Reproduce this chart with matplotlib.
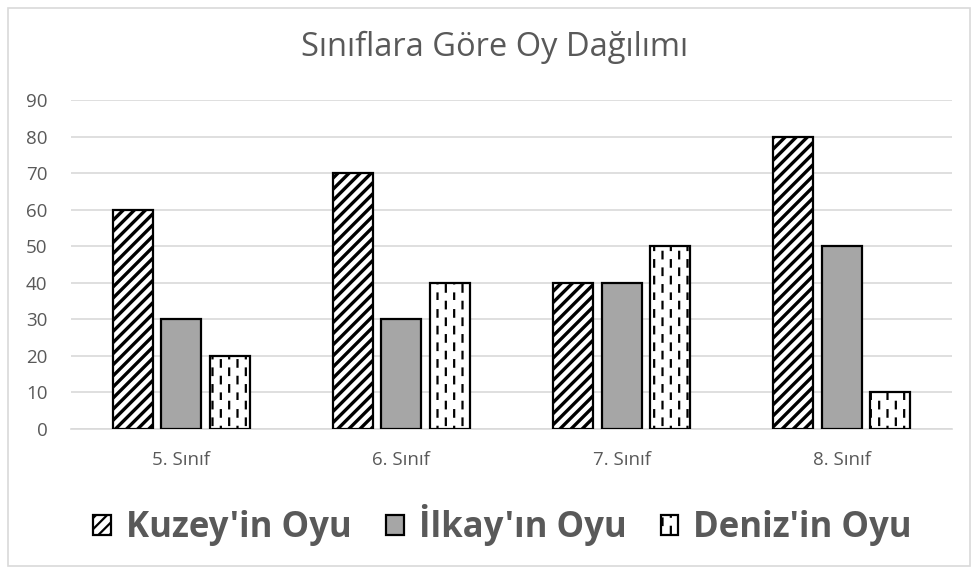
import warnings
import numpy as np
import matplotlib
matplotlib.use("Agg")
import matplotlib.pyplot as plt
from matplotlib import hatch as mhatch
from matplotlib.path import Path
from matplotlib.patches import Rectangle

warnings.filterwarnings("ignore")

# data
categories = ["5. Sınıf", "6. Sınıf", "7. Sınıf", "8. Sınıf"]
kuzey = [60, 70, 40, 80]
ilkay = [30, 30, 40, 50]
deniz = [20, 40, 50, 10]
series_names = ["Kuzey'in Oyu", "İlkay'ın Oyu", "Deniz'in Oyu"]
yticks = [0, 10, 20, 30, 40, 50, 60, 70, 80, 90]


# custom hatch: staggered short vertical dashes ('d')
class DashHatch(mhatch.HatchPatternBase):
    def __init__(self, hatch, density):
        n = hatch.count('d')
        self.ncols = 12 * n
        self.nrows = 6 * n
        self.num_lines = self.ncols * (self.nrows + 1) if n else 0
        self.num_vertices = self.num_lines * 2

    def set_vertices_and_codes(self, vertices, codes):
        dash = 0.065
        k = 0
        for c in range(self.ncols):
            x = (c + 0.5) / self.ncols
            shift = 0.5 / self.nrows if c % 2 else 0.0
            for r in range(self.nrows + 1):
                y0 = r / self.nrows + shift - 1.0 / self.nrows
                vertices[2 * k] = (x, y0)
                vertices[2 * k + 1] = (x, y0 + dash)
                codes[2 * k] = Path.MOVETO
                codes[2 * k + 1] = Path.LINETO
                k += 1


mhatch._hatch_types.append(DashHatch)

plt.rcParams['font.family'] = ['Open Sans', 'DejaVu Sans']
txt_color = '#595959'
grid_color = '#D9D9D9'

fig = plt.figure(figsize=(9.78, 5.74), dpi=100)
ax = fig.add_axes([0.0726, 0.2526, 0.9008, 0.5732])

x = np.arange(len(categories))
w = 0.182
off = 0.22

styles = [
    dict(values=kuzey, dx=-off, color='white', hatch='///', hlw=2.4),
    dict(values=ilkay, dx=0, color='#A6A6A6', hatch=None, hlw=1.0),
    dict(values=deniz, dx=off, color='white', hatch='d', hlw=1.6),
]
handles = []
for name, st in zip(series_names, styles):
    with plt.rc_context({'hatch.linewidth': st['hlw'], 'hatch.color': 'black'}):
        bars = ax.bar(x + st['dx'], st['values'], width=w, color=st['color'],
                      edgecolor='black', linewidth=1.6, hatch=st['hatch'],
                      label=name, zorder=3)
        for b in bars:
            if hasattr(b, 'set_hatch_linewidth'):
                b.set_hatch_linewidth(st['hlw'])
    handles.append(bars)

ax.set_xlim(-0.5, len(categories) - 0.5)
ax.set_ylim(0, 90)
ax.set_yticks(yticks)
ax.set_xticks(x)
ax.set_xticklabels(categories)
ax.tick_params(axis='both', length=0, labelsize=13.5, colors=txt_color)
ax.tick_params(axis='y', pad=17)
ax.tick_params(axis='x', pad=16)
ax.grid(axis='y', color=grid_color, linewidth=1.2, zorder=0)
ax.set_axisbelow(True)
for s in ['top', 'right', 'left']:
    ax.spines[s].set_visible(False)
ax.spines['bottom'].set_color(grid_color)
ax.spines['bottom'].set_linewidth(1.2)

fig.text(0.506, 1 - 47 / 574, "Sınıflara Göre Oy Dağılımı", ha='center', va='center',
         fontsize=23.5, color=txt_color)

with plt.rc_context({'hatch.linewidth': 1.6}):
    leg = fig.legend(handles, series_names, loc='center', ncol=3,
                     bbox_to_anchor=(0.514, 1 - 525 / 574), frameon=False,
                     prop={'size': 25, 'weight': 'bold'},
                     handlelength=0.5, handleheight=0.5, handletextpad=0.43,
                     columnspacing=1.0)
for t in leg.get_texts():
    t.set_color(txt_color)

fig.patches.append(Rectangle((8 / 978, 8 / 574), 962 / 978, 558 / 574,
                             transform=fig.transFigure, fill=False,
                             edgecolor=grid_color, linewidth=1.2))

fig.savefig("out.png", dpi=100)
